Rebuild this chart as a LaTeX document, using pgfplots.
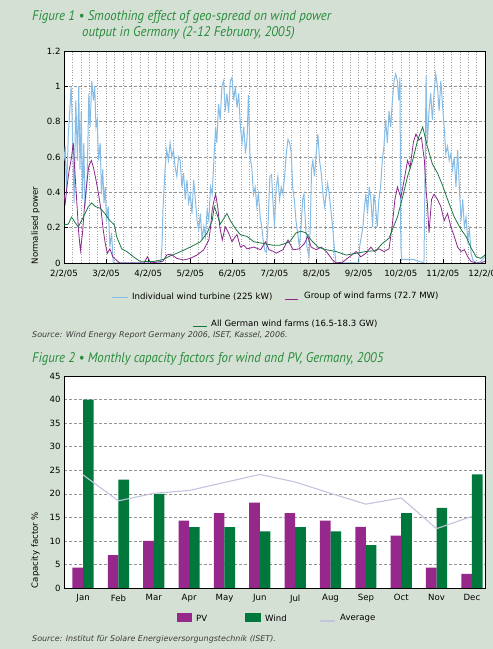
\documentclass[border=0pt]{standalone}
\usepackage{pgfplots}
\pgfplotsset{compat=1.18}
\usepackage{fontspec}
\setmainfont{DejaVu Sans}
\newfontfamily\titlefont{PT Sans}[FakeStretch=0.92]
\definecolor{bg}{RGB}{213,224,212}
\definecolor{turb}{RGB}{135,188,230}
\definecolor{grp}{RGB}{140,40,140}
\definecolor{allde}{RGB}{25,120,65}
\definecolor{pv}{RGB}{150,40,140}
\definecolor{wind}{RGB}{0,120,60}
\definecolor{avg}{RGB}{196,196,222}
\definecolor{ttl}{RGB}{40,140,60}
\definecolor{src}{RGB}{60,60,60}

\pgfplotstableread{
d v
0 0.58
0.03 0.66
0.06 0.39
0.1 0.71
0.17 1.0
0.2 0.77
0.24 0.34
0.28 0.92
0.32 0.58
0.35 1.0
0.38 0.53
0.41 0.86
0.44 0.36
0.47 0.68
0.5 0.32
0.55 0.47
0.59 0.96
0.62 0.77
0.66 1.03
0.7 0.92
0.73 1.0
0.76 0.77
0.79 0.81
0.82 0.58
0.86 0.68
0.89 0.39
0.92 0.53
0.95 0.34
0.98 0.43
1.01 0.24
1.05 0.32
1.09 0.09
1.13 0.17
1.17 0.0
1.5 0.0
2.0 0.0
2.3 0.0
2.33 0.11
2.35 0.3
2.37 0.39
2.4 0.53
2.44 0.64
2.48 0.58
2.52 0.68
2.56 0.6
2.6 0.64
2.64 0.54
2.68 0.49
2.72 0.6
2.76 0.58
2.8 0.43
2.84 0.51
2.88 0.36
2.92 0.47
2.96 0.34
3.0 0.39
3.04 0.28
3.08 0.47
3.12 0.36
3.16 0.24
3.2 0.19
3.24 0.28
3.28 0.13
3.32 0.205
3.36 0.15
3.4 0.3
3.44 0.24
3.48 0.43
3.52 0.39
3.56 0.58
3.6 0.77
3.63 0.68
3.67 0.9
3.71 0.81
3.75 1.0
3.79 1.03
3.83 0.86
3.87 0.96
3.91 0.85
3.95 1.03
3.99 1.05
4.03 0.92
4.07 1.0
4.11 0.88
4.15 0.96
4.19 0.77
4.23 0.68
4.27 0.77
4.31 0.62
4.35 0.71
4.38 0.95
4.42 0.6
4.46 0.54
4.5 0.39
4.54 0.43
4.58 0.32
4.62 0.39
4.66 0.26
4.7 0.2
4.73 0.13
4.77 0.07
4.81 0.06
4.85 0.24
4.89 0.49
4.93 0.5
4.96 0.36
5.0 0.205
5.04 0.43
5.08 0.49
5.12 0.36
5.16 0.43
5.2 0.39
5.24 0.49
5.28 0.62
5.32 0.7
5.36 0.68
5.4 0.62
5.43 0.43
5.47 0.36
5.51 0.24
5.55 0.17
5.59 0.09
5.63 0.205
5.67 0.36
5.7 0.39
5.74 0.205
5.77 0.09
5.82 0.035
5.85 0.205
5.88 0.53
5.91 0.58
5.95 0.49
5.99 0.62
6.03 0.73
6.07 0.58
6.11 0.51
6.15 0.39
6.19 0.32
6.23 0.39
6.26 0.45
6.3 0.39
6.34 0.3
6.38 0.205
6.42 0.09
6.46 0.0
6.7 0.0
7.0 0.0
7.02 0.09
7.1 0.205
7.13 0.3
7.17 0.39
7.21 0.28
7.25 0.43
7.29 0.36
7.33 0.205
7.36 0.39
7.4 0.32
7.44 0.205
7.48 0.36
7.52 0.43
7.56 0.58
7.6 0.66
7.64 0.81
7.68 0.68
7.72 0.86
7.76 0.77
7.8 0.92
7.84 1.03
7.88 1.07
7.92 1.03
7.95 0.92
7.98 1.05
8.0 0.1
8.02 0.02
8.3 0.02
8.55 0.0
8.58 0.58
8.6 1.06
8.63 0.68
8.67 0.86
8.71 0.96
8.75 0.81
8.79 0.96
8.83 1.07
8.87 1.0
8.91 0.86
8.95 1.03
8.99 0.9
9.03 0.77
9.07 0.62
9.11 0.66
9.15 0.58
9.19 0.62
9.23 0.53
9.27 0.6
9.31 0.43
9.35 0.64
9.39 0.43
9.43 0.24
9.47 0.36
9.51 0.205
9.55 0.26
9.59 0.13
9.63 0.19
9.67 0.055
9.71 0.017
9.79 0.0
9.9 0.008
10 0.035
}\turbine

\pgfplotstableread{
d v
0 0.39
0.03 0.34
0.07 0.43
0.12 0.52
0.18 0.6
0.22 0.68
0.26 0.51
0.3 0.36
0.35 0.17
0.39 0.07
0.44 0.17
0.48 0.3
0.54 0.45
0.59 0.55
0.65 0.58
0.7 0.54
0.76 0.47
0.82 0.39
0.88 0.3
0.93 0.19
0.98 0.11
1.03 0.055
1.09 0.08
1.16 0.035
1.24 0.017
1.32 0.0
1.9 0.0
1.98 0.035
2.06 0.0
2.35 0.01
2.44 0.045
2.52 0.05
2.6 0.04
2.68 0.026
2.84 0.017
3.0 0.026
3.16 0.045
3.32 0.075
3.44 0.13
3.48 0.2
3.52 0.3
3.56 0.35
3.6 0.39
3.65 0.32
3.7 0.205
3.76 0.13
3.83 0.205
3.91 0.17
3.99 0.12
4.07 0.15
4.11 0.16
4.19 0.09
4.27 0.1
4.35 0.08
4.51 0.09
4.67 0.075
4.79 0.12
4.87 0.075
4.98 0.065
5.04 0.055
5.2 0.075
5.32 0.13
5.44 0.075
5.59 0.08
5.71 0.11
5.79 0.15
5.87 0.09
5.99 0.075
6.11 0.09
6.23 0.065
6.38 0.017
6.46 0.0
6.62 0.005
6.78 0.035
6.94 0.065
7.05 0.035
7.17 0.055
7.29 0.09
7.37 0.065
7.48 0.08
7.6 0.065
7.72 0.08
7.8 0.22
7.86 0.36
7.92 0.43
8.0 0.37
8.08 0.47
8.16 0.58
8.22 0.54
8.3 0.685
8.36 0.73
8.43 0.695
8.49 0.71
8.56 0.58
8.6 0.41
8.63 0.34
8.67 0.17
8.73 0.36
8.79 0.39
8.87 0.36
8.95 0.32
9.03 0.24
9.11 0.28
9.19 0.205
9.27 0.15
9.35 0.09
9.43 0.065
9.51 0.075
9.59 0.035
9.67 0.008
9.79 0.0
9.9 0.0
10 0.01
}\groupfarms

\pgfplotstableread{
d v
0 0.215
0.1 0.22
0.18 0.26
0.26 0.23
0.34 0.205
0.46 0.26
0.58 0.32
0.66 0.34
0.74 0.32
0.86 0.31
0.97 0.28
1.09 0.24
1.2 0.215
1.25 0.15
1.37 0.08
1.49 0.065
1.65 0.035
1.8 0.01
2.12 0.008
2.36 0.02
2.52 0.04
2.68 0.055
3.0 0.09
3.24 0.12
3.4 0.17
3.52 0.24
3.57 0.32
3.63 0.28
3.71 0.22
3.79 0.25
3.87 0.28
3.95 0.24
4.07 0.195
4.19 0.16
4.35 0.15
4.51 0.12
4.75 0.11
4.98 0.1
5.12 0.1
5.36 0.12
5.51 0.17
5.63 0.18
5.75 0.17
5.87 0.13
6.03 0.09
6.23 0.075
6.46 0.065
6.7 0.045
6.94 0.055
7.17 0.065
7.41 0.07
7.56 0.11
7.72 0.14
7.8 0.19
7.92 0.26
8.04 0.37
8.16 0.49
8.28 0.58
8.4 0.695
8.52 0.77
8.63 0.66
8.75 0.56
8.87 0.51
8.99 0.44
9.11 0.36
9.27 0.26
9.43 0.19
9.55 0.15
9.67 0.085
9.79 0.035
9.9 0.026
10.0 0.045
}\allgerman

\pgfplotstableread{
m pv wind avg
0 4.3 40.0 24.0
1 7.0 23.0 18.5
2 10.0 20.0 20.1
3 14.3 12.9 20.7
4 15.9 12.9 22.4
5 18.1 12.0 24.1
6 15.9 12.9 22.5
7 14.3 12.0 20.1
8 13.0 9.1 17.8
9 11.1 15.9 19.1
10 4.3 17.0 12.6
11 3.0 24.1 15.2
}\monthly

\begin{document}
\begin{tikzpicture}[x=1bp,y=1bp]
\path[use as bounding box] (0,0) rectangle (493,649);
\clip (0,0) rectangle (493,649);
\fill[bg] (0,0) rectangle (493,649);

% ---------- Figure 1 title ----------
\node[anchor=west, inner sep=0, text=ttl] at (32,631.5)
  {\titlefont\itshape\fontsize{14}{16}\selectfont Figure 1 \textbullet\ Smoothing effect of geo-spread on wind power};
\node[anchor=west, inner sep=0, text=ttl] at (82,615.5)
  {\titlefont\itshape\fontsize{14}{16}\selectfont output in Germany (2-12 February, 2005)};

\begin{axis}[
  at={(64bp,386bp)}, anchor=south west, scale only axis,
  width=421bp, height=212bp,
  xmin=0, xmax=10, ymin=0, ymax=1.2,
  xtick={0,1,2,3,4,5,6,7,8,9,10},
  xticklabels={2/2/05,3/2/05,4/2/05,5/2/05,6/2/05,7/2/05,8/2/05,9/2/05,10/2/05,11/2/05,12/2/05},
  ytick={0,0.2,0.4,0.6,0.8,1,1.2},
  minor x tick num=4,
  xmajorgrids, xminorgrids, ymajorgrids,
  x grid style={gray!75, dash pattern=on 0.8bp off 1.8bp, line width=0.5bp},
  y grid style={gray!85, dash pattern=on 3bp off 2bp, line width=0.5bp},
  tick pos=left, tick align=inside,
  major tick length=4bp, minor tick length=0pt,
  tick style={black, line width=0.7bp},
  axis line style={black, line width=0.8bp},
  axis background/.style={fill=white},
  ticklabel style={font=\fontsize{8.6}{10}\selectfont},
  xticklabel style={yshift=-4bp},
  /pgf/number format/assume math mode=true,
]
\addplot[turb, line width=1.0bp] table[x=d, y=v] {\turbine};
\addplot[grp, line width=0.8bp] table[x=d, y=v] {\groupfarms};
\addplot[allde, line width=0.8bp] table[x=d, y=v] {\allgerman};
\end{axis}

\node[rotate=90, inner sep=0, font=\fontsize{8.6}{10}\selectfont] at (35.5,423.5) {Normalised power};

% legend 1
\draw[turb, line width=0.9bp] (112,352) -- (128,352);
\node[anchor=west, inner sep=0, font=\fontsize{8.6}{10}\selectfont] at (132,352.5) {Individual wind turbine (225 kW)};
\draw[grp, line width=0.9bp] (285,350) -- (298,350);
\node[anchor=west, inner sep=0, font=\fontsize{8.6}{10}\selectfont] at (304,352.5) {Group of wind farms (72.7 MW)};
\draw[allde, line width=0.9bp] (193,323) -- (207,323);
\node[anchor=west, inner sep=0, font=\fontsize{8.6}{10}\selectfont] at (211,325.5) {All German wind farms (16.5-18.3 GW)};

\node[anchor=west, inner sep=0, text=src, font=\fontsize{8}{9}\selectfont\itshape] at (32,314)
  {Source: Wind Energy Report Germany 2006, ISET, Kassel, 2006.};

% ---------- Figure 2 ----------
\node[anchor=west, inner sep=0, text=ttl] at (32,290)
  {\titlefont\itshape\fontsize{14}{16}\selectfont Figure 2 \textbullet\ Monthly capacity factors for wind and PV, Germany, 2005};

\begin{axis}[
  at={(64bp,61bp)}, anchor=south west, scale only axis,
  width=421bp, height=212bp,
  xmin=-0.54, xmax=11.37, ymin=0, ymax=45,
  xtick={0,1,2,3,4,5,6,7,8,9,10,11},
  xticklabels={Jan,Feb,Mar,Apr,May,Jun,Jul,Aug,Sep,Oct,Nov,Dec},
  ytick={0,5,10,15,20,25,30,35,40,45},
  ymajorgrids,
  y grid style={gray!85, dash pattern=on 3bp off 2bp, line width=0.5bp},
  major tick length=0pt,
  axis line style={black, line width=0.8bp},
  axis background/.style={fill=white},
  ticklabel style={font=\fontsize{8.6}{10}\selectfont},
  xticklabel style={yshift=-3bp},
  /pgf/number format/assume math mode=true,
]
\addplot[ybar, bar width=0.3, bar shift=-0.15, fill=pv, draw=none] table[x=m, y=pv] {\monthly};
\addplot[ybar, bar width=0.3, bar shift=0.15, fill=wind, draw=none] table[x=m, y=wind] {\monthly};
\addplot[avg, line width=1.1bp] table[x=m, y=avg] {\monthly};
\end{axis}

\node[rotate=90, inner sep=0, font=\fontsize{8.6}{10}\selectfont] at (35.5,99) {Capacity factor \%};

% legend 2
\fill[pv] (177,27) rectangle (192,36);
\node[anchor=west, inner sep=0, font=\fontsize{8.6}{10}\selectfont] at (196,31) {PV};
\fill[wind] (245,27) rectangle (261,36);
\node[anchor=west, inner sep=0, font=\fontsize{8.6}{10}\selectfont] at (265,31) {Wind};
\draw[avg, line width=1.1bp] (320,28) -- (335,28);
\node[anchor=west, inner sep=0, font=\fontsize{8.6}{10}\selectfont] at (340,31) {Average};

\node[anchor=west, inner sep=0, text=src, font=\fontsize{8}{9}\selectfont\itshape] at (32,10)
  {Source: Institut für Solare Energieversorgungstechnik (ISET).};
\end{tikzpicture}
\end{document}
